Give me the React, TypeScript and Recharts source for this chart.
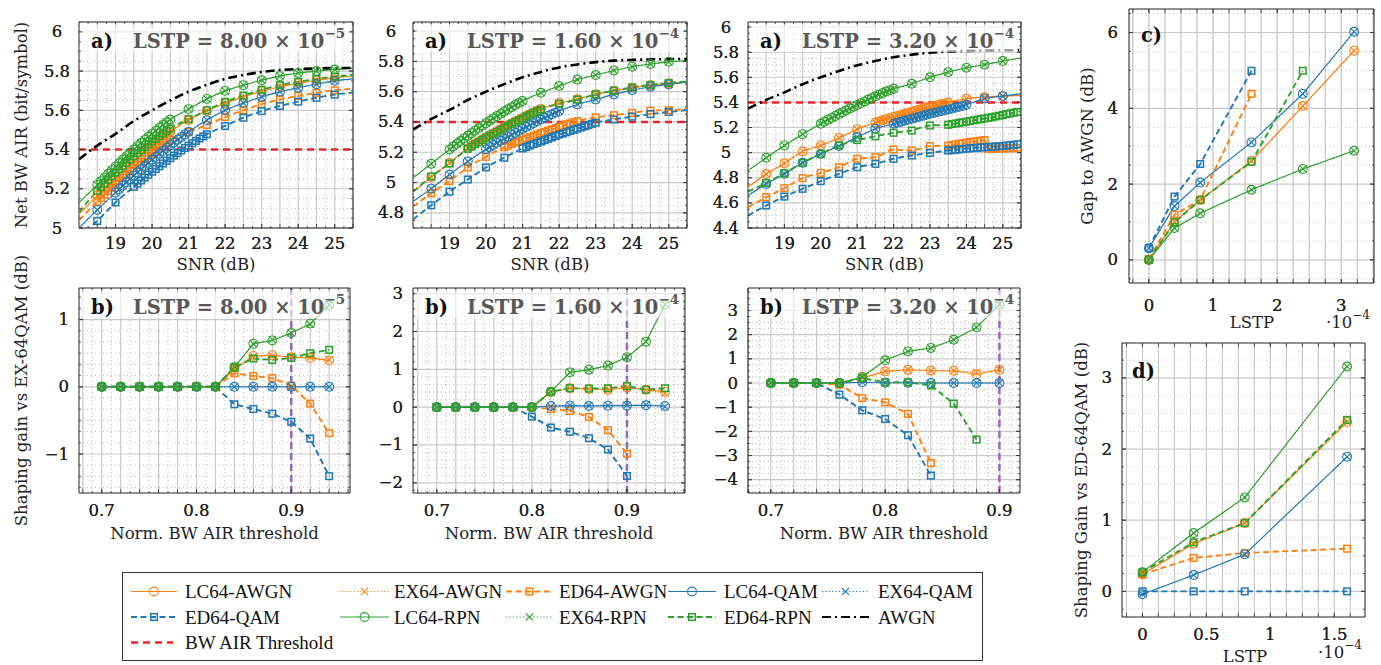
import React from "react";
import {
  LineChart,
  Line,
  XAxis,
  YAxis,
  CartesianGrid,
  ReferenceLine,
  ReferenceArea,
} from "recharts";

// colours / fonts
const ORANGE = "#ff7f0e";
const BLUE = "#1f77b4";
const GREEN = "#2ca02c";
const RED = "#e8262b";
const PURPLE = "#9467bd";
const SERIF = "'DejaVu Serif', serif";
const TIMES = "'Liberation Serif', serif";

type Pt = { x: number; y: number };
const zip = (xs: number[], ys: number[]): Pt[] => xs.map((x, i) => ({ x, y: ys[i] }));
const pairs = (list: number[][]): Pt[] => list.map(([x, y]) => ({ x, y }));
const merge = (...parts: Pt[][]): Pt[] => parts.flat().sort((a, b) => a.x - b.x);

// ---------------- a) net BW AIR vs SNR ----------------
// SNR grids (dB) of the densely sampled stretches
const SNR_185_205 = [18.5, 18.6, 18.7, 18.8, 18.9, 19.0, 19.1, 19.2, 19.3, 19.4, 19.5, 19.6, 19.7, 19.8, 19.9, 20.0, 20.1, 20.2, 20.3, 20.4, 20.5];
const SNR_190_210 = [19.0, 19.1, 19.2, 19.3, 19.4, 19.5, 19.6, 19.7, 19.8, 19.9, 20.0, 20.1, 20.2, 20.3, 20.4, 20.5, 20.6, 20.7, 20.8, 20.9, 21.0];
const SNR_195_215 = [19.5, 19.6, 19.7, 19.8, 19.9, 20.0, 20.1, 20.2, 20.3, 20.4, 20.5, 20.6, 20.7, 20.8, 20.9, 21.0, 21.1, 21.2, 21.3, 21.4, 21.5];
const SNR_200_220 = [20.0, 20.1, 20.2, 20.3, 20.4, 20.5, 20.6, 20.7, 20.8, 20.9, 21.0, 21.1, 21.2, 21.3, 21.4, 21.5, 21.6, 21.7, 21.8, 21.9, 22.0];
const SNR_205_225 = [20.5, 20.6, 20.7, 20.8, 20.9, 21.0, 21.1, 21.2, 21.3, 21.4, 21.5, 21.6, 21.7, 21.8, 21.9, 22.0, 22.1, 22.2, 22.3, 22.4, 22.5];
const SNR_210_230 = [21.0, 21.1, 21.2, 21.3, 21.4, 21.5, 21.6, 21.7, 21.8, 21.9, 22.0, 22.1, 22.2, 22.3, 22.4, 22.5, 22.6, 22.7, 22.8, 22.9, 23.0];
const SNR_215_235 = [21.5, 21.6, 21.7, 21.8, 21.9, 22.0, 22.1, 22.2, 22.3, 22.4, 22.5, 22.6, 22.7, 22.8, 22.9, 23.0, 23.1, 23.2, 23.3, 23.4, 23.5];
const SNR_220_240 = [22.0, 22.1, 22.2, 22.3, 22.4, 22.5, 22.6, 22.7, 22.8, 22.9, 23.0, 23.1, 23.2, 23.3, 23.4, 23.5, 23.6, 23.7, 23.8, 23.9, 24.0];
const SNR_235_255 = [23.5, 23.6, 23.7, 23.8, 23.9, 24.0, 24.1, 24.2, 24.3, 24.4, 24.5, 24.6, 24.7, 24.8, 24.9, 25.0, 25.1, 25.2, 25.3, 25.4, 25.5];
const SNR_235_245 = [23.5, 23.6, 23.7, 23.8, 23.9, 24.0, 24.1, 24.2, 24.3, 24.4, 24.5];
const SNR_246_255 = [24.6, 24.7, 24.8, 24.9, 25.0, 25.1, 25.2, 25.3, 25.4, 25.5];

const SNR_AWGN = [18, 18.5, 19, 19.5, 20, 20.5, 21, 21.5, 22, 22.5, 23, 23.5, 24, 24.5, 25, 25.5];
const AIR_AWGN = [5.35, 5.42, 5.48, 5.545, 5.6, 5.65, 5.695, 5.73, 5.76, 5.78, 5.795, 5.805, 5.81, 5.813, 5.815, 5.816];
const BW_AIR_THRESHOLD = 5.4;

// LSTP = 8.00e-5
const A1_LC_AWGN = merge(
  pairs([[18, 5.07], [21, 5.55], [21.5, 5.597], [22, 5.635], [22.5, 5.668], [23, 5.697], [23.5, 5.72], [24, 5.738], [24.5, 5.753], [25, 5.765], [25.5, 5.775]]),
  zip(SNR_185_205, [5.165, 5.184, 5.203, 5.222, 5.24, 5.258, 5.276, 5.293, 5.31, 5.327, 5.343, 5.359, 5.375, 5.391, 5.406, 5.421, 5.436, 5.45, 5.464, 5.478, 5.492])
);
const A1_ED_AWGN = merge(
  pairs([[18, 5.04], [21, 5.49], [21.5, 5.525], [22, 5.566], [22.5, 5.6], [23, 5.631], [23.5, 5.655], [24, 5.673], [24.5, 5.689], [25, 5.702], [25.5, 5.71]]),
  zip(SNR_185_205, [5.134, 5.152, 5.17, 5.188, 5.206, 5.223, 5.24, 5.257, 5.273, 5.289, 5.305, 5.321, 5.336, 5.351, 5.366, 5.381, 5.395, 5.409, 5.423, 5.437, 5.45])
);
const A1_LC_QAM = merge(
  pairs([[18, 5.0], [18.5, 5.092], [21.5, 5.55], [22, 5.6], [22.5, 5.637], [23, 5.668], [23.5, 5.695], [24, 5.715], [24.5, 5.733], [25, 5.75], [25.5, 5.76]]),
  zip(SNR_190_210, [5.18, 5.198, 5.216, 5.233, 5.25, 5.267, 5.284, 5.3, 5.316, 5.332, 5.348, 5.363, 5.378, 5.393, 5.408, 5.422, 5.436, 5.45, 5.464, 5.477, 5.49])
);
const A1_ED_QAM = merge(
  pairs([[18, 4.95], [18.5, 5.036], [19, 5.13], [22, 5.52], [22.5, 5.562], [23, 5.596], [23.5, 5.622], [24, 5.644], [24.5, 5.664], [25, 5.68], [25.5, 5.69]]),
  zip(SNR_195_215, [5.21, 5.226, 5.242, 5.257, 5.272, 5.287, 5.301, 5.315, 5.329, 5.343, 5.356, 5.369, 5.382, 5.395, 5.408, 5.42, 5.432, 5.444, 5.456, 5.467, 5.478])
);
const A1_LC_RPN = merge(
  pairs([[18, 5.13], [21, 5.606], [21.5, 5.658], [22, 5.699], [22.5, 5.728], [23, 5.753], [23.5, 5.774], [24, 5.79], [24.5, 5.8], [25, 5.808], [25.5, 5.815]]),
  zip(SNR_185_205, [5.22, 5.239, 5.258, 5.277, 5.295, 5.313, 5.331, 5.349, 5.366, 5.383, 5.4, 5.417, 5.433, 5.449, 5.465, 5.48, 5.495, 5.51, 5.525, 5.539, 5.553])
);
const A1_ED_RPN = merge(
  pairs([[18, 5.08], [21, 5.555], [21.5, 5.6], [22, 5.643], [22.5, 5.675], [23, 5.705], [23.5, 5.728], [24, 5.745], [24.5, 5.76], [25, 5.772], [25.5, 5.78]]),
  zip(SNR_185_205, [5.19, 5.209, 5.228, 5.246, 5.264, 5.282, 5.299, 5.316, 5.333, 5.349, 5.365, 5.381, 5.396, 5.411, 5.426, 5.44, 5.454, 5.468, 5.481, 5.494, 5.507])
);

// LSTP = 1.60e-4
const A2_LC_AWGN = merge(
  pairs([[18, 4.935], [18.5, 5.036], [19, 5.13], [22, 5.525], [22.5, 5.55], [23, 5.583], [23.5, 5.607], [24, 5.627], [24.5, 5.643], [25, 5.655], [25.5, 5.664]]),
  zip(SNR_195_215, [5.226, 5.241, 5.256, 5.27, 5.284, 5.298, 5.312, 5.326, 5.339, 5.352, 5.365, 5.378, 5.391, 5.403, 5.415, 5.427, 5.439, 5.451, 5.463, 5.474, 5.486])
);
const A2_ED_AWGN = merge(
  pairs([[18, 4.84], [18.5, 4.93], [19, 5.01], [19.5, 5.1], [20, 5.17], [23, 5.43], [23.5, 5.445], [24, 5.46], [24.5, 5.475], [25, 5.478], [25.5, 5.485]]),
  zip(SNR_205_225, [5.234, 5.244, 5.254, 5.264, 5.273, 5.282, 5.291, 5.3, 5.309, 5.318, 5.327, 5.335, 5.343, 5.351, 5.359, 5.367, 5.375, 5.383, 5.391, 5.398, 5.406])
);
const A2_LC_QAM = merge(
  pairs([[18, 4.875], [18.5, 4.96], [19, 5.053], [19.5, 5.14], [22.5, 5.516], [23, 5.549], [23.5, 5.582], [24, 5.61], [24.5, 5.633], [25, 5.648], [25.5, 5.663]]),
  zip(SNR_200_220, [5.22, 5.234, 5.248, 5.262, 5.276, 5.289, 5.302, 5.315, 5.328, 5.341, 5.354, 5.367, 5.38, 5.392, 5.404, 5.416, 5.428, 5.44, 5.451, 5.462, 5.472])
);
const A2_ED_QAM = merge(
  pairs([[18, 4.757], [18.5, 4.85], [19, 4.94], [19.5, 5.02], [20, 5.1], [20.5, 5.164], [23.5, 5.417], [24, 5.435], [24.5, 5.452], [25, 5.466], [25.5, 5.478]]),
  zip(SNR_210_230, [5.225, 5.235, 5.244, 5.253, 5.262, 5.271, 5.28, 5.289, 5.298, 5.307, 5.316, 5.324, 5.332, 5.34, 5.348, 5.356, 5.364, 5.372, 5.38, 5.388, 5.395])
);
const A2_LC_RPN = merge(
  pairs([[18, 5.03], [18.5, 5.124], [21.5, 5.593], [22, 5.637], [22.5, 5.68], [23, 5.71], [23.5, 5.74], [24, 5.765], [24.5, 5.783], [25, 5.797], [25.5, 5.806]]),
  zip(SNR_190_210, [5.219, 5.238, 5.256, 5.274, 5.292, 5.309, 5.326, 5.343, 5.36, 5.376, 5.392, 5.408, 5.424, 5.439, 5.454, 5.469, 5.484, 5.498, 5.512, 5.525, 5.538])
);
const A2_ED_RPN = merge(
  pairs([[18, 4.94], [18.5, 5.04], [19, 5.126], [22, 5.52], [22.5, 5.548], [23, 5.582], [23.5, 5.607], [24, 5.628], [24.5, 5.645], [25, 5.658], [25.5, 5.667]]),
  zip(SNR_195_215, [5.223, 5.238, 5.253, 5.267, 5.281, 5.295, 5.309, 5.323, 5.336, 5.349, 5.362, 5.375, 5.388, 5.4, 5.412, 5.424, 5.436, 5.448, 5.46, 5.471, 5.483])
);

// LSTP = 3.20e-4
const A3_LC_AWGN = merge(
  pairs([[18, 4.725], [18.5, 4.83], [19, 4.915], [19.5, 5.009], [20, 5.057], [20.5, 5.117], [21, 5.187], [24, 5.43], [24.5, 5.442], [25, 5.45], [25.5, 5.456]]),
  zip(SNR_215_235, [5.24, 5.249, 5.258, 5.267, 5.276, 5.285, 5.293, 5.301, 5.309, 5.317, 5.325, 5.333, 5.341, 5.349, 5.357, 5.364, 5.371, 5.378, 5.385, 5.392, 5.399])
);
const A3_ED_AWGN = merge(
  pairs([[18, 4.566], [18.5, 4.645], [19, 4.717], [19.5, 4.797], [20, 4.839], [20.5, 4.884], [21, 4.951], [21.5, 4.964], [22, 5.025], [22.5, 5.017], [23, 5.052]]),
  zip(SNR_235_245, [5.055, 5.06, 5.065, 5.07, 5.075, 5.08, 5.084, 5.088, 5.092, 5.096, 5.1]),
  zip(SNR_246_255, [5.03, 5.031, 5.032, 5.033, 5.034, 5.035, 5.036, 5.037, 5.038, 5.039])
);
const A3_LC_QAM = merge(
  pairs([[18, 4.658], [18.5, 4.751], [19, 4.831], [19.5, 4.919], [20, 4.99], [20.5, 5.052], [21, 5.124], [21.5, 5.19], [24.5, 5.43], [25, 5.45], [25.5, 5.469]]),
  zip(SNR_220_240, [5.23, 5.238, 5.246, 5.254, 5.262, 5.27, 5.278, 5.286, 5.294, 5.302, 5.309, 5.316, 5.323, 5.33, 5.337, 5.344, 5.351, 5.358, 5.365, 5.372, 5.381])
);
const A3_ED_QAM = merge(
  pairs([[18, 4.499], [18.5, 4.579], [19, 4.65], [19.5, 4.712], [20, 4.773], [20.5, 4.831], [21, 4.884], [21.5, 4.911], [22, 4.951], [22.5, 4.977], [23, 4.998]]),
  zip(SNR_235_255, [5.017, 5.02, 5.023, 5.026, 5.029, 5.032, 5.035, 5.037, 5.039, 5.041, 5.043, 5.045, 5.047, 5.049, 5.051, 5.053, 5.056, 5.059, 5.062, 5.066, 5.07])
);
const A3_LC_RPN = merge(
  pairs([[18, 4.857], [18.5, 4.959], [19, 5.057], [19.5, 5.147], [22.5, 5.548], [23, 5.6], [23.5, 5.641], [24, 5.676], [24.5, 5.7], [25, 5.729], [25.5, 5.753]]),
  zip(SNR_200_220, [5.23, 5.246, 5.262, 5.277, 5.292, 5.307, 5.322, 5.337, 5.352, 5.366, 5.38, 5.394, 5.408, 5.422, 5.436, 5.449, 5.462, 5.475, 5.488, 5.498, 5.508])
);
const A3_ED_RPN = merge(
  pairs([[18, 4.69], [18.5, 4.759], [19, 4.836], [19.5, 4.919], [20, 4.99], [20.5, 5.057], [21, 5.1], [21.5, 5.13], [22, 5.158], [22.5, 5.176], [23, 5.216]]),
  zip(SNR_235_255, [5.222, 5.227, 5.232, 5.237, 5.242, 5.247, 5.252, 5.257, 5.262, 5.267, 5.272, 5.277, 5.282, 5.288, 5.294, 5.3, 5.306, 5.312, 5.318, 5.324, 5.33])
);

// ---------------- b) shaping gain vs EX-64QAM ----------------
const NBT_13 = [0.7, 0.72, 0.74, 0.76, 0.78, 0.8, 0.82, 0.84, 0.86, 0.88, 0.9, 0.92, 0.94];
const NBT_11 = [0.7, 0.72, 0.74, 0.76, 0.78, 0.8, 0.82, 0.84, 0.86, 0.88, 0.9];
const NBT_10 = [0.7, 0.72, 0.74, 0.76, 0.78, 0.8, 0.82, 0.84, 0.86, 0.88];
const NBT_8 = [0.7, 0.72, 0.74, 0.76, 0.78, 0.8, 0.82, 0.84];
const PURPLE_MARK = 0.9;

const B1_LC_AWGN = [0, 0, 0, 0, 0, 0, 0, 0.26, 0.46, 0.47, 0.44, 0.43, 0.39];
const B1_EX_AWGN = [0, 0, 0, 0, 0, 0, 0, 0.27, 0.45, 0.46, 0.45, 0.44, 0.4];
const B1_ED_AWGN = [0, 0, 0, 0, 0, 0, 0, 0.2, 0.16, 0.13, 0.02, -0.25, -0.69];
const B1_LC_QAM = [0, 0, 0, 0, 0, 0, 0, 0, 0, 0, 0, 0, 0];
const B1_EX_QAM = [0, 0, 0, 0, 0, 0, 0, 0, 0, 0, 0, 0, 0];
const B1_ED_QAM = [0, 0, 0, 0, 0, 0, 0, -0.26, -0.33, -0.4, -0.52, -0.77, -1.33];
const B1_LC_RPN = [0, 0, 0, 0, 0, 0, 0, 0.29, 0.64, 0.69, 0.8, 0.94, 1.21];
const B1_EX_RPN = [0, 0, 0, 0, 0, 0, 0, 0.3, 0.64, 0.7, 0.8, 0.93, 1.22];
const B1_ED_RPN = [0, 0, 0, 0, 0, 0, 0, 0.29, 0.42, 0.4, 0.43, 0.5, 0.55];

const B2_LC_AWGN = [0, 0, 0, 0, 0, 0, 0.4, 0.5, 0.48, 0.46, 0.52, 0.46, 0.41];
const B2_EX_AWGN = [0, 0, 0, 0, 0, 0, 0.4, 0.5, 0.48, 0.46, 0.52, 0.45, 0.37];
const B2_ED_AWGN = [0, 0, 0, 0, 0, 0, -0.05, -0.1, -0.26, -0.61, -1.23];
const B2_LC_QAM = [0, 0, 0, 0, 0, 0, 0.03, 0.04, 0.03, 0.04, 0.04, 0.05, 0.03];
const B2_EX_QAM = [0, 0, 0, 0, 0, 0, 0.02, 0.05, 0.04, 0.04, 0.05, 0.06, 0.01];
const B2_ED_QAM = [0, 0, 0, 0, 0, -0.25, -0.54, -0.65, -0.82, -1.12, -1.82];
const B2_LC_RPN = [0, 0, 0, 0, 0, 0, 0.41, 0.92, 0.99, 1.1, 1.32, 1.73, 2.71];
const B2_EX_RPN = [0, 0, 0, 0, 0, 0, 0.41, 0.92, 0.99, 1.1, 1.32, 1.73, 2.72];
const B2_ED_RPN = [0, 0, 0, 0, 0, 0, 0.41, 0.5, 0.49, 0.5, 0.56, 0.46, 0.5];

const B3_LC_AWGN = [0, 0, 0, 0, 0.21, 0.48, 0.55, 0.51, 0.51, 0.36, 0.55];
const B3_EX_AWGN = [0, 0, 0, 0, 0.21, 0.48, 0.55, 0.51, 0.51, 0.44, 0.55];
const B3_ED_AWGN = [0, 0, 0, -0.07, -0.62, -0.8, -1.28, -3.31];
const B3_LC_QAM = [0, 0, 0, 0, 0.03, 0.01, 0.01, 0, 0, 0, 0];
const B3_EX_QAM = [0, 0, 0, 0, 0.03, 0.01, 0.01, 0, 0, 0, 0];
const B3_ED_QAM = [0, 0, 0, -0.48, -1.13, -1.49, -2.16, -3.83];
const B3_LC_RPN = [0, 0, 0, 0, 0.25, 0.94, 1.31, 1.45, 1.79, 2.3, 3.24];
const B3_EX_RPN = [0, 0, 0, 0, 0.25, 0.94, 1.31, 1.45, 1.79, 2.3, 3.24];
const B3_ED_RPN = [0, 0, 0, 0, 0.2, 0.03, 0.03, -0.1, -0.85, -2.34];

// ---------------- c) gap to AWGN ----------------
const LSTP_C = [0, 0.4, 0.8, 1.6, 2.4, 3.2];
const C_LC_AWGN = [0, 1.01, 1.58, 2.61, 4.06, 5.52];
const C_ED_AWGN = [0.02, 1.19, 1.58, 4.38];
const C_LC_QAM = [0.31, 1.42, 2.04, 3.1, 4.38, 6.02];
const C_ED_QAM = [0.31, 1.67, 2.53, 4.99];
const C_LC_RPN = [0, 0.84, 1.23, 1.85, 2.4, 2.88];
const C_ED_RPN = [0, 0.99, 1.58, 2.59, 4.99];

// ---------------- d) shaping gain vs ED-64QAM ----------------
const LSTP_D = [0, 0.4, 0.8, 1.6];
const D_LC_AWGN = [0.24, 0.67, 0.96, 2.38];
const D_ED_AWGN = [0.24, 0.47, 0.54, 0.6];
const D_LC_QAM = [-0.04, 0.23, 0.52, 1.89];
const D_ED_QAM = [0, 0, 0, 0];
const D_LC_RPN = [0.27, 0.82, 1.32, 3.16];
const D_ED_RPN = [0.27, 0.69, 0.96, 2.41];

// ---------------- drawing helpers ----------------
type Kind = "LC" | "EX" | "ED";
type Series = { kind: Kind; color: string; data: Pt[] };

const LINE_STYLE: Record<Kind, { w: number; dash?: string }> = {
  LC: { w: 1.1 },
  EX: { w: 1.1, dash: "1.2 2.2" },
  ED: { w: 1.9, dash: "6 3.5" },
};

function Marker({ kind, cx, cy, color }: { kind: Kind; cx: number; cy: number; color: string }) {
  if (kind === "LC") return <circle cx={cx} cy={cy} r={4.4} fill="none" stroke={color} strokeWidth={1.1} />;
  if (kind === "EX") {
    const s = 3.7;
    return (
      <path
        d={`M${cx - s},${cy - s}L${cx + s},${cy + s}M${cx - s},${cy + s}L${cx + s},${cy - s}`}
        stroke={color}
        strokeWidth={1.1}
        fill="none"
      />
    );
  }
  return <rect x={cx - 3.3} y={cy - 3.3} width={6.6} height={6.6} fill="none" stroke={color} strokeWidth={1.5} />;
}

const steps = (a: number, b: number, s: number) => {
  const out: number[] = [];
  for (let i = 0; a + i * s <= b + 1e-9; i++) out.push(+(a + i * s).toFixed(5));
  return out;
};
const has = (list: number[], v: number) => list.some((m) => Math.abs(m - v) < 1e-6);
const minus = (list: number[], other: number[]) => list.filter((v) => !has(other, v));
const fmt = (v: number) => (v < 0 ? "\u2212" + String(Math.abs(v)) : String(v));

const PAD_L = 60;
const PAD_R = 12;
const PAD_T = 12;
const PAD_B = 40;

type PanelProps = {
  box: [number, number, number, number];
  xDomain: [number, number];
  yDomain: [number, number];
  xLabels: number[];
  yLabels: number[];
  xSolid: number[];
  xDot: number[];
  ySolid: number[];
  yDot: number[];
  yAnchor: "middle" | "end";
  yGap: number;
  xGap: number;
  series: Series[];
  curve: "linear" | "monotone";
  hideMark?: (x: number) => boolean;
  awgn?: Pt[];
  hLine?: number;
  vLine?: number;
};

function Panel(p: PanelProps) {
  const [l, t, r, b] = p.box;
  const W = r - l;
  const H = b - t;
  const x0 = PAD_L;
  const x1 = PAD_L + W;
  const y0 = PAD_T;
  const y1 = PAD_T + H;
  const inX = (v: number) => v >= p.xDomain[0] && v <= p.xDomain[1];
  const inY = (v: number) => v >= p.yDomain[0] && v <= p.yDomain[1];
  const xTicks = [...p.xLabels, ...p.xSolid, ...p.xDot].filter(inX).sort((a, c) => a - c);
  const yTicks = [...p.yLabels, ...p.ySolid, ...p.yDot].filter(inY).sort((a, c) => a - c);
  const tickCol = "#333";

  const xTick = (tp: any) => {
    const v = tp.payload.value;
    const x = tp.x;
    const major = has(p.xLabels, v) || has(p.xSolid, v);
    const len = major ? 4 : 2;
    return (
      <g>
        <line x1={x} x2={x} y1={y1} y2={y1 - len} stroke={tickCol} strokeWidth={0.8} />
        <line x1={x} x2={x} y1={y0} y2={y0 + len} stroke={tickCol} strokeWidth={0.8} />
        {has(p.xLabels, v) && (
          <text x={x} y={y1 + p.xGap} textAnchor="middle" dominantBaseline="central" fontFamily={SERIF} fontSize={16.5} fill="#222">
            {fmt(v)}
          </text>
        )}
      </g>
    );
  };
  const yTick = (tp: any) => {
    const v = tp.payload.value;
    const y = tp.y;
    const major = has(p.yLabels, v) || has(p.ySolid, v);
    const len = major ? 4 : 2;
    return (
      <g>
        <line x1={x0} x2={x0 + len} y1={y} y2={y} stroke={tickCol} strokeWidth={0.8} />
        <line x1={x1} x2={x1 - len} y1={y} y2={y} stroke={tickCol} strokeWidth={0.8} />
        {has(p.yLabels, v) && (
          <text x={x0 - p.yGap} y={y} textAnchor={p.yAnchor} dominantBaseline="central" fontFamily={SERIF} fontSize={16.5} fill="#222">
            {fmt(v)}
          </text>
        )}
      </g>
    );
  };

  const dotFor = (s: Series) => (dp: any) => {
    const { cx, cy, payload, index } = dp;
    if (cx == null || cy == null || (p.hideMark && p.hideMark(payload.x))) return <g key={`d${index}`} />;
    return (
      <g key={`d${index}`}>
        <Marker kind={s.kind} cx={cx} cy={cy} color={s.color} />
      </g>
    );
  };

  return (
    <div style={{ position: "absolute", left: l - PAD_L, top: t - PAD_T }}>
      <LineChart width={W + PAD_L + PAD_R} height={H + PAD_T + PAD_B} margin={{ top: PAD_T, right: PAD_R, bottom: 0, left: 0 }}>
        <CartesianGrid
          horizontalValues={p.yDot.filter(inY)}
          verticalValues={p.xDot.filter(inX)}
          stroke="#a8a8a8"
          strokeWidth={0.8}
          strokeDasharray="1 3"
        />
        <CartesianGrid
          horizontalValues={p.ySolid.filter(inY)}
          verticalValues={p.xSolid.filter(inX)}
          stroke="#c8c8c8"
          strokeWidth={1.2}
        />
        <XAxis
          type="number"
          dataKey="x"
          domain={p.xDomain}
          allowDataOverflow
          ticks={xTicks}
          interval={0}
          height={PAD_B}
          tick={xTick}
          tickLine={false}
          axisLine={false}
        />
        <YAxis
          type="number"
          domain={p.yDomain}
          allowDataOverflow
          ticks={yTicks}
          interval={0}
          width={PAD_L}
          tick={yTick}
          tickLine={false}
          axisLine={false}
        />
        {p.hLine !== undefined && (
          <ReferenceLine y={p.hLine} stroke={RED} strokeWidth={2.5} strokeDasharray="7 5" />
        )}
        {p.vLine !== undefined && (
          <ReferenceLine x={p.vLine} stroke={PURPLE} strokeWidth={2.5} strokeDasharray="7 4" />
        )}
        {p.series.map((s, i) => (
          <Line
            key={i}
            data={s.data}
            dataKey="y"
            type={p.curve}
            stroke={s.color}
            strokeWidth={LINE_STYLE[s.kind].w}
            strokeDasharray={LINE_STYLE[s.kind].dash}
            dot={dotFor(s)}
            activeDot={false}
            isAnimationActive={false}
          />
        ))}
        {p.awgn && (
          <Line
            data={p.awgn}
            dataKey="y"
            type="monotone"
            stroke="#000"
            strokeWidth={2.6}
            strokeDasharray="9 4 2 4"
            dot={false}
            activeDot={false}
            isAnimationActive={false}
          />
        )}
        <ReferenceArea
          x1={p.xDomain[0]}
          x2={p.xDomain[1]}
          y1={p.yDomain[0]}
          y2={p.yDomain[1]}
          fill="none"
          fillOpacity={0}
          stroke="#222"
          strokeWidth={1}
        />
      </LineChart>
    </div>
  );
}

const nine = (
  lcA: Pt[], exA: Pt[], edA: Pt[],
  lcQ: Pt[], exQ: Pt[], edQ: Pt[],
  lcR: Pt[], exR: Pt[], edR: Pt[]
): Series[] => [
  { kind: "LC", color: ORANGE, data: lcA },
  { kind: "EX", color: ORANGE, data: exA },
  { kind: "ED", color: ORANGE, data: edA },
  { kind: "LC", color: BLUE, data: lcQ },
  { kind: "EX", color: BLUE, data: exQ },
  { kind: "ED", color: BLUE, data: edQ },
  { kind: "LC", color: GREEN, data: lcR },
  { kind: "EX", color: GREEN, data: exR },
  { kind: "ED", color: GREEN, data: edR },
];

// EX markers coincide with the LC markers in the a), c) and d) panels
const A1_SERIES = nine(A1_LC_AWGN, A1_LC_AWGN, A1_ED_AWGN, A1_LC_QAM, A1_LC_QAM, A1_ED_QAM, A1_LC_RPN, A1_LC_RPN, A1_ED_RPN);
const A2_SERIES = nine(A2_LC_AWGN, A2_LC_AWGN, A2_ED_AWGN, A2_LC_QAM, A2_LC_QAM, A2_ED_QAM, A2_LC_RPN, A2_LC_RPN, A2_ED_RPN);
const A3_SERIES = nine(A3_LC_AWGN, A3_LC_AWGN, A3_ED_AWGN, A3_LC_QAM, A3_LC_QAM, A3_ED_QAM, A3_LC_RPN, A3_LC_RPN, A3_ED_RPN);

const B1_SERIES = nine(
  zip(NBT_13, B1_LC_AWGN), zip(NBT_13, B1_EX_AWGN), zip(NBT_13, B1_ED_AWGN),
  zip(NBT_13, B1_LC_QAM), zip(NBT_13, B1_EX_QAM), zip(NBT_13, B1_ED_QAM),
  zip(NBT_13, B1_LC_RPN), zip(NBT_13, B1_EX_RPN), zip(NBT_13, B1_ED_RPN)
);
const B2_SERIES = nine(
  zip(NBT_13, B2_LC_AWGN), zip(NBT_13, B2_EX_AWGN), zip(NBT_11, B2_ED_AWGN),
  zip(NBT_13, B2_LC_QAM), zip(NBT_13, B2_EX_QAM), zip(NBT_11, B2_ED_QAM),
  zip(NBT_13, B2_LC_RPN), zip(NBT_13, B2_EX_RPN), zip(NBT_13, B2_ED_RPN)
);
const B3_SERIES = nine(
  zip(NBT_11, B3_LC_AWGN), zip(NBT_11, B3_EX_AWGN), zip(NBT_8, B3_ED_AWGN),
  zip(NBT_11, B3_LC_QAM), zip(NBT_11, B3_EX_QAM), zip(NBT_8, B3_ED_QAM),
  zip(NBT_11, B3_LC_RPN), zip(NBT_11, B3_EX_RPN), zip(NBT_10, B3_ED_RPN)
);
const C_SERIES = nine(
  zip(LSTP_C, C_LC_AWGN), zip(LSTP_C, C_LC_AWGN), zip(LSTP_C, C_ED_AWGN),
  zip(LSTP_C, C_LC_QAM), zip(LSTP_C, C_LC_QAM), zip(LSTP_C, C_ED_QAM),
  zip(LSTP_C, C_LC_RPN), zip(LSTP_C, C_LC_RPN), zip(LSTP_C, C_ED_RPN)
);
const D_SERIES = nine(
  zip(LSTP_D, D_LC_AWGN), zip(LSTP_D, D_LC_AWGN), zip(LSTP_D, D_ED_AWGN),
  zip(LSTP_D, D_LC_QAM), zip(LSTP_D, D_LC_QAM), zip(LSTP_D, D_ED_QAM),
  zip(LSTP_D, D_LC_RPN), zip(LSTP_D, D_LC_RPN), zip(LSTP_D, D_ED_RPN)
);

const AWGN_CURVE = zip(SNR_AWGN, AIR_AWGN);

// boxes (page px): left, top, right, bottom
const A1_BOX: [number, number, number, number] = [79, 22, 353, 228];
const A2_BOX: [number, number, number, number] = [413, 22, 687, 228];
const A3_BOX: [number, number, number, number] = [748, 22, 1021, 228];
const B1_BOX: [number, number, number, number] = [79, 288, 350, 493];
const B2_BOX: [number, number, number, number] = [413, 288, 685, 493];
const B3_BOX: [number, number, number, number] = [748, 288, 1020, 493];
const C_BOX: [number, number, number, number] = [1129, 9, 1374, 283];
const D_BOX: [number, number, number, number] = [1122, 343, 1365, 617];

const SNR_LABELS = [19, 20, 21, 22, 23, 24, 25];
const aGrid = (lo: number) => ({
  xSolid: steps(18.5, 25.5, 0.5),
  xDot: steps(18.25, 25.25, 0.5),
  ySolid: steps(lo, 6.2, 0.2),
  yDot: minus(steps(lo, 6.2, 0.05), steps(lo, 6.2, 0.2)),
});
const bGrid = (lo: number, hi: number, ydot: number, xmax: number) => ({
  xSolid: steps(0.68, xmax, 0.02),
  xDot: steps(0.69, xmax, 0.02),
  ySolid: steps(lo, hi, 1),
  yDot: minus(steps(lo - 1, hi + 1, ydot), steps(lo - 1, hi + 1, 1)),
});

function Title({ box, tag, value, exp }: { box: number[]; tag: string; value?: string; exp?: string }) {
  const [l, t, r] = box;
  return (
    <g>
      <rect x={l + 2} y={t + 2} width={r - l - 5} height={28} fill="#fff" fillOpacity={0.6} />
      <text x={l + 12} y={t + 25.5} fontFamily={SERIF} fontWeight="bold" fontSize={19.5} fill="#111">
        {tag}
      </text>
      {value && (
        <text x={l + 54} y={t + 25.5} fontFamily={SERIF} fontWeight="bold" fontSize={19.5} fill="#585858">
          {`LSTP = ${value} \u00d7 10`}
          <tspan dy={-9.5} fontSize={13.5}>
            {exp}
          </tspan>
        </text>
      )}
    </g>
  );
}

const LEGEND_ROWS = [591.5, 617, 642.5];
const LEGEND_ITEMS: { label: string; color: string; kind: Kind | "AWGN" | "TH"; col: number; row: number }[] = [
  { label: "LC64-AWGN", color: ORANGE, kind: "LC", col: 0, row: 0 },
  { label: "EX64-AWGN", color: ORANGE, kind: "EX", col: 1, row: 0 },
  { label: "ED64-AWGN", color: ORANGE, kind: "ED", col: 2, row: 0 },
  { label: "LC64-QAM", color: BLUE, kind: "LC", col: 3, row: 0 },
  { label: "EX64-QAM", color: BLUE, kind: "EX", col: 4, row: 0 },
  { label: "ED64-QAM", color: BLUE, kind: "ED", col: 0, row: 1 },
  { label: "LC64-RPN", color: GREEN, kind: "LC", col: 1, row: 1 },
  { label: "EX64-RPN", color: GREEN, kind: "EX", col: 2, row: 1 },
  { label: "ED64-RPN", color: GREEN, kind: "ED", col: 3, row: 1 },
  { label: "AWGN", color: "#000", kind: "AWGN", col: 4, row: 1 },
  { label: "BW AIR Threshold", color: RED, kind: "TH", col: 0, row: 2 },
];
const LEGEND_COLS = [
  { a: 131, b: 177, text: 185 },
  { a: 340, b: 389, text: 394 },
  { a: 506, b: 553, text: 559 },
  { a: 668, b: 716, text: 724 },
  { a: 822, b: 869, text: 878 },
];

function Legend() {
  return (
    <g>
      <rect x={122.5} y={572.5} width={860} height={88} fill="#fff" stroke="#333" strokeWidth={1} />
      {LEGEND_ITEMS.map((it, i) => {
        const c = LEGEND_COLS[it.col];
        const y = LEGEND_ROWS[it.row];
        const mid = (c.a + c.b) / 2;
        let line: React.ReactNode;
        if (it.kind === "AWGN") {
          line = <line x1={c.a} x2={c.b} y1={y} y2={y} stroke="#000" strokeWidth={2.2} strokeDasharray="9 4 2 4" />;
        } else if (it.kind === "TH") {
          line = <line x1={c.a} x2={c.b - 4} y1={y} y2={y} stroke={RED} strokeWidth={2.5} strokeDasharray="7 5" />;
        } else {
          const st = LINE_STYLE[it.kind];
          line = (
            <g>
              <line x1={c.a} x2={c.b} y1={y} y2={y} stroke={it.color} strokeWidth={st.w} strokeDasharray={st.dash} />
              <Marker kind={it.kind} cx={mid} cy={y} color={it.color} />
            </g>
          );
        }
        return (
          <g key={i}>
            {line}
            <text x={c.text} y={y} dominantBaseline="central" fontFamily={TIMES} fontSize={19} fill="#111">
              {it.label}
            </text>
          </g>
        );
      })}
    </g>
  );
}

function Overlay() {
  const lab = { fontFamily: SERIF, fontSize: 16.5, fill: "#222" } as const;
  const cx = (b: number[]) => (b[0] + b[2]) / 2;
  const cy = (b: number[]) => (b[1] + b[3]) / 2;
  return (
    <svg width={1381} height={665} style={{ position: "absolute", left: 0, top: 0, pointerEvents: "none" }}>
      <Title box={A1_BOX} tag="a)" value="8.00" exp={"\u22125"} />
      <Title box={A2_BOX} tag="a)" value="1.60" exp={"\u22124"} />
      <Title box={A3_BOX} tag="a)" value="3.20" exp={"\u22124"} />
      <Title box={B1_BOX} tag="b)" value="8.00" exp={"\u22125"} />
      <Title box={B2_BOX} tag="b)" value="1.60" exp={"\u22124"} />
      <Title box={B3_BOX} tag="b)" value="3.20" exp={"\u22124"} />
      <text x={1141} y={42} fontFamily={SERIF} fontWeight="bold" fontSize={19.5} fill="#111">c)</text>
      <text x={1132} y={378} fontFamily={SERIF} fontWeight="bold" fontSize={19.5} fill="#111">d)</text>

      {[A1_BOX, A2_BOX, A3_BOX].map((b, i) => (
        <text key={`s${i}`} x={cx(b)} y={264} textAnchor="middle" dominantBaseline="central" {...lab}>
          SNR (dB)
        </text>
      ))}
      {[B1_BOX, B2_BOX, B3_BOX].map((b, i) => (
        <text key={`n${i}`} x={cx(b)} y={533} textAnchor="middle" dominantBaseline="central" {...lab}>
          Norm. BW AIR threshold
        </text>
      ))}
      <text transform={`translate(21.5,${cy(A1_BOX)}) rotate(-90)`} textAnchor="middle" dominantBaseline="central" {...lab}>
        Net BW AIR (bit/symbol)
      </text>
      <text transform={`translate(21.5,${cy(B1_BOX)}) rotate(-90)`} textAnchor="middle" dominantBaseline="central" {...lab}>
        Shaping gain vs EX-64QAM (dB)
      </text>
      <text transform={`translate(1087,${cy(C_BOX)}) rotate(-90)`} textAnchor="middle" dominantBaseline="central" {...lab}>
        Gap to AWGN (dB)
      </text>
      <text transform={`translate(1081,${cy(D_BOX)}) rotate(-90)`} textAnchor="middle" dominantBaseline="central" {...lab}>
        Shaping Gain vs ED-64QAM (dB)
      </text>
      <text x={1252} y={322} textAnchor="middle" dominantBaseline="central" {...lab}>LSTP</text>
      <text x={1326} y={322} dominantBaseline="central" {...lab}>
        {"\u00b710"}
        <tspan dy={-7} fontSize={12}>{"\u22124"}</tspan>
      </text>
      <text x={1245} y={656} textAnchor="middle" dominantBaseline="central" {...lab}>LSTP</text>
      <text x={1318} y={652} dominantBaseline="central" {...lab}>
        {"\u00b710"}
        <tspan dy={-7} fontSize={12}>{"\u22124"}</tspan>
      </text>
      <Legend />
    </svg>
  );
}

const edgeOnly = (x: number) => x <= 18 || x >= 25.5;

export default function App() {
  return (
    <div style={{ position: "absolute", left: 0, top: 0, width: 1381, height: 665, background: "#fff", overflow: "hidden" }}>
      <Panel
        box={A1_BOX} xDomain={[18, 25.5]} yDomain={[5, 6.05]}
        xLabels={SNR_LABELS} yLabels={[5, 5.2, 5.4, 5.6, 5.8, 6]} {...aGrid(5)}
        yAnchor="middle" yGap={22} xGap={15}
        series={A1_SERIES} curve="monotone" hideMark={edgeOnly} awgn={AWGN_CURVE} hLine={BW_AIR_THRESHOLD}
      />
      <Panel
        box={A2_BOX} xDomain={[18, 25.5]} yDomain={[4.7, 6.06]}
        xLabels={SNR_LABELS} yLabels={[4.8, 5, 5.2, 5.4, 5.6, 5.8, 6]} {...aGrid(4.6)}
        yAnchor="middle" yGap={22} xGap={15}
        series={A2_SERIES} curve="monotone" hideMark={edgeOnly} awgn={AWGN_CURVE} hLine={BW_AIR_THRESHOLD}
      />
      <Panel
        box={A3_BOX} xDomain={[18, 25.5]} yDomain={[4.4, 6.04]}
        xLabels={SNR_LABELS} yLabels={[4.4, 4.6, 4.8, 5, 5.2, 5.4, 5.6, 5.8, 6]} {...aGrid(4.4)}
        yAnchor="middle" yGap={22} xGap={15}
        series={A3_SERIES} curve="monotone" hideMark={edgeOnly} awgn={AWGN_CURVE} hLine={BW_AIR_THRESHOLD}
      />
      <Panel
        box={B1_BOX} xDomain={[0.676, 0.962]} yDomain={[-1.58, 1.47]}
        xLabels={[0.7, 0.8, 0.9]} yLabels={[-1, 0, 1]} {...bGrid(-1, 1, 1 / 6, 0.96)}
        yAnchor="end" yGap={10} xGap={17}
        series={B1_SERIES} curve="linear" vLine={PURPLE_MARK}
      />
      <Panel
        box={B2_BOX} xDomain={[0.675, 0.961]} yDomain={[-2.27, 3.15]}
        xLabels={[0.7, 0.8, 0.9]} yLabels={[-2, -1, 0, 1, 2, 3]} {...bGrid(-2, 3, 0.2, 0.96)}
        yAnchor="end" yGap={10} xGap={17}
        series={B2_SERIES} curve="linear" vLine={PURPLE_MARK}
      />
      <Panel
        box={B3_BOX} xDomain={[0.68, 0.918]} yDomain={[-4.55, 3.93]}
        xLabels={[0.7, 0.8, 0.9]} yLabels={[-4, -3, -2, -1, 0, 1, 2, 3]} {...bGrid(-4, 3, 0.25, 0.92)}
        yAnchor="end" yGap={10} xGap={17}
        series={B3_SERIES} curve="linear" vLine={PURPLE_MARK}
      />
      <Panel
        box={C_BOX} xDomain={[-0.31, 3.51]} yDomain={[-0.61, 6.62]}
        xLabels={[0, 1, 2, 3]} yLabels={[0, 2, 4, 6]}
        xSolid={steps(-0.25, 3.5, 0.25)} xDot={[]}
        ySolid={[0, 2, 4, 6]} yDot={minus(steps(-0.5, 6.5, 0.5), [0, 2, 4, 6])}
        yAnchor="end" yGap={11} xGap={22}
        series={C_SERIES} curve="linear"
      />
      <Panel
        box={D_BOX} xDomain={[-0.16, 1.74]} yDomain={[-0.36, 3.49]}
        xLabels={[0, 0.5, 1, 1.5]} yLabels={[0, 1, 2, 3]}
        xSolid={steps(-0.125, 1.75, 0.125)} xDot={[]}
        ySolid={[0, 1, 2, 3]} yDot={minus(steps(-0.25, 3.25, 0.25), [0, 1, 2, 3])}
        yAnchor="end" yGap={10} xGap={17}
        series={D_SERIES} curve="linear"
      />
      <Overlay />
    </div>
  );
}
